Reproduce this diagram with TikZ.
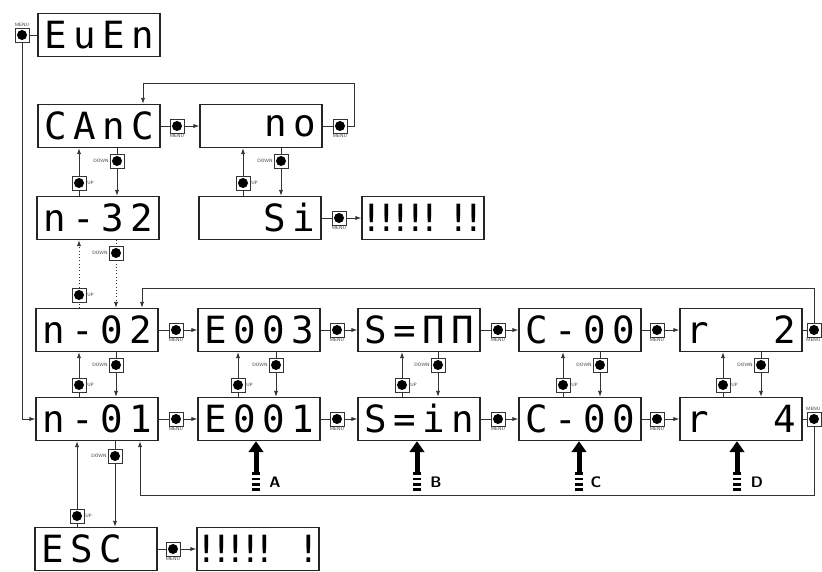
\documentclass[tikz,border=0pt]{standalone}
\usepackage{fontspec}
\newfontfamily\segfont{DejaVu Sans Mono}
\usetikzlibrary{arrows.meta}

% one digit position of a display, and a four digit display
\newcommand{\dg}[2][8.7mm]{\makebox[#1]{#2}}
\newcommand{\four}[4]{\dg{#1}\dg{#2}\dg{#3}\dg{#4}}
\newcommand{\eight}[8]{\dg[4.35mm]{#1}\dg[4.35mm]{#2}\dg[4.35mm]{#3}\dg[4.35mm]{#4}%
  \dg[4.35mm]{#5}\dg[4.35mm]{#6}\dg[4.35mm]{#7}\dg[4.35mm]{#8}}

\tikzset{
  lcd/.style={draw=black!85, line width=1.2pt, minimum width=36.6mm, minimum height=12.9mm,
    inner sep=0pt, font=\segfont\fontsize{32}{32}\selectfont},
  key/.style={draw=black!80, line width=0.6pt, minimum size=4.2mm, inner sep=0pt,
    path picture={\fill (path picture bounding box.center) circle (1.5mm);}},
  tag/.style={font=\sffamily\fontsize{4}{4}\selectfont, inner sep=0.6pt, text=black!80},
  menukey/.style={key, label={[tag]below:MENU}},
  upkey/.style={key, label={[tag]right:UP}},
  downkey/.style={key, label={[tag]left:DOWN}},
  lnk/.style={draw=black!80, line width=0.8pt},
  bigarr/.style={line width=1.5mm, -{Triangle[length=3.3mm,width=4.4mm]}},
  stripes/.style={line width=2.4mm, dash pattern=on 0.8mm off 0.8mm},
  letter/.style={font=\sffamily\bfseries\fontsize{13}{13}\selectfont}
}

\begin{document}
\begin{tikzpicture}[x=0.3mm, y=-0.3mm, >={Latex[length=1.8mm,width=1.3mm]}]
\useasboundingbox (0,0) rectangle (822,572);

% entry
\node[key, label={[tag]above:MENU}] (m0) at (22,35) {};
\node[lcd] (evn) at (99,35) {\four{E}{u}{E}{n}};
\draw[lnk] (m0) -- (evn);

% cancel branch
\node[lcd] (canc) at (99,126) {\four{C}{A}{n}{C}};
\node[menukey] (k1) at (177,126) {};
\node[lcd] (noo) at (261,126) {\four{}{}{n}{o}};
\node[menukey] (k2) at (340,126) {};
\node[lcd] (n32) at (98,218) {\four{n}{-}{3}{2}};
\node[lcd] (si) at (260,218) {\four{}{}{S}{i}};
\node[menukey] (k3) at (339,218) {};
\node[lcd] (bl1) at (423,218) {\eight{!}{!}{!}{!}{!}{}{!}{!}};
\node[upkey] (u1) at (79,183) {};
\node[downkey] (d1) at (117,161) {};
\node[upkey] (u2) at (243,183) {};
\node[downkey] (d2) at (281,161) {};
\coordinate (t1) at (354,83);
\coordinate (t2) at (143,83);

\draw[lnk] (canc) -- (k1);
\draw[lnk, ->] (k1) -- (noo);
\draw[lnk] (noo) -- (k2);
\draw[lnk, ->] (k2) -| (t1) -- (t2) -- (t2 |- canc.north);
\draw[lnk, ->] (u1 |- n32.north) -- (u1) -- (u1 |- canc.south);
\draw[lnk, ->] (d1 |- canc.south) -- (d1) -- (d1 |- n32.north);
\draw[lnk, ->] (u2 |- si.north) -- (u2) -- (u2 |- noo.south);
\draw[lnk, ->] (d2 |- noo.south) -- (d2) -- (d2 |- si.north);
\draw[lnk] (si) -- (k3);
\draw[lnk, ->] (k3) -- (bl1);

% from n-32 down to n-02 (dotted)
\node[upkey] (u3) at (79,295) {};
\node[downkey] (d3) at (116,253) {};

% upper row
\node[lcd] (n02) at (97,330) {\four{n}{-}{0}{2}};
\node[lcd] (e003) at (259,330) {\four{E}{0}{0}{3}};
\node[lcd] (snn) at (419,330) {\four{S}{=}{Π}{Π}};
\node[lcd] (c00a) at (580,330) {\four{C}{-}{0}{0}};
\node[lcd] (r2) at (741,330) {\four{r}{}{}{2}};
\node[menukey] (k4) at (176,330) {};
\node[menukey] (k5) at (337,330) {};
\node[menukey] (k6) at (498,330) {};
\node[menukey] (k7) at (657,330) {};
\node[key, label={[tag, anchor=north east]south east:MENU}] (k8) at (814,330) {};
\coordinate (t3) at (814,288);
\coordinate (t4) at (142,288);

\draw[lnk, dotted, ->] (u3 |- n02.north) -- (u3) -- (u3 |- n32.south);
\draw[lnk, dotted, ->] (d3 |- n32.south) -- (d3) -- (d3 |- n02.north);

\draw[lnk] (n02) -- (k4);
\draw[lnk, ->] (k4) -- (e003);
\draw[lnk] (e003) -- (k5);
\draw[lnk, ->] (k5) -- (snn);
\draw[lnk] (snn) -- (k6);
\draw[lnk, ->] (k6) -- (c00a);
\draw[lnk] (c00a) -- (k7);
\draw[lnk, ->] (k7) -- (r2);
\draw[lnk] (r2) -- (k8);
\draw[lnk, ->] (k8) -- (t3) -- (t4) -- (t4 |- n02.north);

% lower row
\node[lcd] (n01) at (97,419) {\four{n}{-}{0}{1}};
\node[lcd] (e001) at (259,419) {\four{E}{0}{0}{1}};
\node[lcd] (sin) at (419,419) {\four{S}{=}{i}{n}};
\node[lcd] (c00b) at (580,419) {\four{C}{-}{0}{0}};
\node[lcd] (r4) at (741,419) {\four{r}{}{}{4}};
\node[menukey] (k9) at (176,419) {};
\node[menukey] (k10) at (337,419) {};
\node[menukey] (k11) at (498,419) {};
\node[menukey] (k12) at (657,419) {};
\node[key, label={[tag, anchor=south east]north east:MENU}] (k13) at (814,419) {};
\coordinate (t5) at (814,495);
\coordinate (t6) at (140,495);

\draw[lnk, ->] (m0) |- (n01.west);
\draw[lnk] (n01) -- (k9);
\draw[lnk, ->] (k9) -- (e001);
\draw[lnk] (e001) -- (k10);
\draw[lnk, ->] (k10) -- (sin);
\draw[lnk] (sin) -- (k11);
\draw[lnk, ->] (k11) -- (c00b);
\draw[lnk] (c00b) -- (k12);
\draw[lnk, ->] (k12) -- (r4);
\draw[lnk] (r4) -- (k13);
\draw[lnk, ->] (k13) -- (t5) -- (t6) -- (t6 |- n01.south);

% up/down keys between the two rows
\node[upkey] (ua) at (79,385) {};
\node[downkey] (da) at (116,365) {};
\node[upkey] (ub) at (238,385) {};
\node[downkey] (db) at (276,365) {};
\node[upkey] (uc) at (402,385) {};
\node[downkey] (dc) at (438,365) {};
\node[upkey] (ud) at (563,385) {};
\node[downkey] (dd) at (600,365) {};
\node[upkey] (ue) at (723,385) {};
\node[downkey] (de) at (761,365) {};
\draw[lnk, ->] (ua |- n01.north) -- (ua) -- (ua |- n02.south);
\draw[lnk, ->] (da |- n02.south) -- (da) -- (da |- n01.north);
\draw[lnk, ->] (ub |- e001.north) -- (ub) -- (ub |- e003.south);
\draw[lnk, ->] (db |- e003.south) -- (db) -- (db |- e001.north);
\draw[lnk, ->] (uc |- sin.north) -- (uc) -- (uc |- snn.south);
\draw[lnk, ->] (dc |- snn.south) -- (dc) -- (dc |- sin.north);
\draw[lnk, ->] (ud |- c00b.north) -- (ud) -- (ud |- c00a.south);
\draw[lnk, ->] (dd |- c00a.south) -- (dd) -- (dd |- c00b.north);
\draw[lnk, ->] (ue |- r4.north) -- (ue) -- (ue |- r2.south);
\draw[lnk, ->] (de |- r2.south) -- (de) -- (de |- r4.north);

% up/down keys between n-01 and ESC
\node[lcd] (esc) at (96,549) {\four{E}{S}{C}{}};
\node[menukey] (k14) at (173,549) {};
\node[lcd] (bl2) at (258,549) {\eight{!}{!}{!}{!}{!}{}{}{!}};
\node[upkey] (uf) at (77,516) {};
\node[downkey] (df) at (115,456) {};
\draw[lnk, ->] (uf |- esc.north) -- (uf) -- (uf |- n01.south);
\draw[lnk, ->] (df |- n01.south) -- (df) -- (df |- esc.north);
\draw[lnk] (esc) -- (k14);
\draw[lnk, ->] (k14) -- (bl2);

% marked positions A..D
\coordinate (pa) at (256,491);
\coordinate (pb) at (417,491);
\coordinate (pc) at (579,491);
\coordinate (pd) at (737,491);
\coordinate (qa) at (256,472);
\coordinate (qb) at (417,472);
\coordinate (qc) at (579,472);
\coordinate (qd) at (737,472);
\node[letter] (la) at (275,482) {A};
\node[letter] (lb) at (436,482) {B};
\node[letter] (lc) at (596,482) {C};
\node[letter] (ld) at (757,482) {D};
\draw[stripes] (pa) -- (qa);
\draw[stripes] (pb) -- (qb);
\draw[stripes] (pc) -- (qc);
\draw[stripes] (pd) -- (qd);
\draw[bigarr] (qa) -- (qa |- e001.south);
\draw[bigarr] (qb) -- (qb |- sin.south);
\draw[bigarr] (qc) -- (qc |- c00b.south);
\draw[bigarr] (qd) -- (qd |- r4.south);
\end{tikzpicture}
\end{document}
